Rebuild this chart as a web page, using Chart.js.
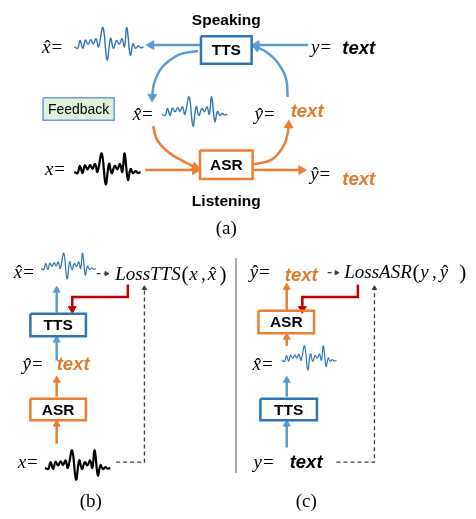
<!DOCTYPE html>
<html><head><meta charset="utf-8">
<script src="https://cdn.jsdelivr.net/npm/chart.js@4/dist/chart.umd.min.js"></script>
<style>html,body{margin:0;padding:0;background:#fff}canvas{display:block}</style>
</head><body>
<canvas id="c" width="476" height="519"></canvas>
<script>
// ---- data: speech waveform (normalised time, normalised amplitude)
const WAVE_T = [0, .05, .085, .125, .16, .2, .24, .275, .315, .35, .415, .475, .525, .565, .61, .65, .69, .725, .76, .81, .85, .885, .925, .96, 1];
const WAVE_V = [-0.05, -0.12, 0.3, -0.12, 0.32, 0.1, 0.35, 0.12, 0.4, -0.05, 1.0, -0.75, 0.42, -0.12, 0.3, 0.1, 0.4, -0.05, 1.0, -0.5, 0.12, -0.12, 0.0, -0.1, -0.05];
// waveform placements: [x0, x1, centreY, amplitude, colour, width]
const WAVES = [
  [70, 141, 41, 19, '#2e75b6', 1.4],
  [160, 227, 110, 17, '#2e75b6', 1.4],
  [70, 138, 169, 18, '#000000', 2.2],
  [36, 92, 268, 15, '#2e75b6', 1.2],
  [40, 107, 472, 17, '#000000', 2.2],
  [283, 339, 362, 14, '#2e75b6', 1.2]
];
const BOX_LABELS = ['TTS', 'ASR', 'TTS', 'ASR', 'ASR', 'TTS'];
const TITLES = ['Speaking', 'Listening', '(a)', '(b)', '(c)'];

const BLUE = '#5b9bd5', BLUE_D = '#2e75b6', ORANGE = '#ed7d31', RED = '#c00000', DASH = '#3a3a3a';

const datasets = [];
function line(pts, color, width, extra) {
  return Object.assign({
    data: pts.map(p => ({x: p[0], y: p[1]})), showLine: true, borderColor: color,
    borderWidth: width, pointRadius: 0, tension: 0, fill: false, clip: false
  }, extra || {});
}
function arrow(pts, color, width, rot, r, extra) {
  const rad = pts.map((p, i) => i === pts.length - 1 ? r : 0);
  return line(pts, color, width, Object.assign({
    pointRadius: rad, pointStyle: 'triangle', rotation: rot,
    pointBackgroundColor: color, pointBorderColor: color, pointBorderWidth: 1
  }, extra || {}));
}
function rect(x0, y0, x1, y1, color, width, fillColor) {
  const d = line([[x0, y0], [x1, y0], [x1, y1], [x0, y1], [x0, y0]], color, width,
    fillColor ? {fill: 'shape', backgroundColor: fillColor} : {});
  d.borderJoinStyle = 'miter';
  return d;
}
// waveforms
WAVES.forEach(w => {
  const [x0, x1, cy, amp, col, wd] = w;
  datasets.push(line(WAVE_V.map((v, i) => [x0 + (x1 - x0) * WAVE_T[i], cy - v * amp]), col, wd, {tension: 0.4}));
});
// boxes
const BOXES = [
  [200, 31, 252, 59, BLUE_D], [199, 148, 253, 177, ORANGE],
  [25, 315, 82, 338, BLUE_D], [25, 402, 82, 424, ORANGE],
  [259, 312, 316, 335, ORANGE], [261, 402, 319, 424, BLUE_D]
];
BOXES.forEach(b => datasets.push(rect(b[0], b[1], b[2], b[3], b[4], 2.5)));
datasets.push(rect(38, 94, 111, 117, '#6f9bd1', 1.5, '#e2efda'));
// (a) arrows
datasets.push(arrow([[199, 40], [149, 40]], BLUE, 2.5, 270, 5));
datasets.push(arrow([[310, 40], [257, 40]], BLUE, 2.5, 270, 5));
datasets.push(arrow([[143, 168], [194, 168]], ORANGE, 2.5, 90, 5));
datasets.push(arrow([[253, 168], [303, 168]], ORANGE, 2.5, 90, 5));
datasets.push(arrow([[197, 46], [177, 50], [160, 63], [152, 79], [150, 93]], BLUE, 2.5, 182, 5, {tension: 0.4}));
datasets.push(arrow([[289, 93], [287, 73], [278, 57], [267, 47], [257, 42]], BLUE, 2.5, 292, 5, {tension: 0.4}));
datasets.push(arrow([[151, 123], [155, 137], [167, 150], [182, 159], [194, 165]], ORANGE, 2.5, 112, 5, {tension: 0.4}));
datasets.push(arrow([[254, 162], [273, 157], [285, 143], [289, 130], [290, 122]], ORANGE, 2.5, 2, 5, {tension: 0.4}));
// (b) arrows
datasets.push(arrow([[52, 314], [52, 291]], BLUE, 2.5, 0, 4));
datasets.push(arrow([[52, 363], [52, 342]], BLUE, 2.5, 0, 4));
datasets.push(arrow([[52, 400], [52, 383]], ORANGE, 2.5, 0, 4));
datasets.push(arrow([[52, 448], [52, 428]], ORANGE, 2.5, 0, 4));
datasets.push(arrow([[93, 274], [103, 274]], DASH, 1.3, 90, 2.5, {borderDash: [4, 3]}));
datasets.push(arrow([[125, 285], [125, 298], [68, 298], [68, 310]], RED, 2.5, 180, 4.5));
datasets.push(arrow([[113, 467], [142, 467], [142, 289]], DASH, 1.3, 0, 2.5, {borderDash: [4, 3]}));
// (c) arrows
datasets.push(arrow([[288, 311], [288, 288]], ORANGE, 2.5, 0, 4));
datasets.push(arrow([[288, 348], [288, 339]], ORANGE, 2.5, 0, 4));
datasets.push(arrow([[288, 400], [288, 383]], BLUE, 2.5, 0, 4));
datasets.push(arrow([[288, 452], [288, 428]], BLUE, 2.5, 0, 4));
datasets.push(arrow([[330, 273], [339, 273]], DASH, 1.3, 90, 2.5, {borderDash: [4, 3]}));
datasets.push(arrow([[361, 285], [361, 298], [304, 298], [304, 310]], RED, 2.5, 180, 4.5));
datasets.push(arrow([[339, 467], [378, 467], [378, 289]], DASH, 1.3, 0, 2.5, {borderDash: [4, 3]}));
// divider
datasets.push(line([[236, 258], [236, 478]], '#9a9a9a', 1));

const SANS = "'Liberation Sans', Arial, sans-serif";
const SERIF = "'Liberation Serif', 'Times New Roman', serif";
const ORANGE_T = '#e07b2c';

const textPlugin = {
  id: 'texts',
  afterDatasetsDraw(chart) {
    const ctx = chart.ctx, sx = chart.scales.x, sy = chart.scales.y;
    const X = v => sx.getPixelForValue(v), Y = v => sy.getPixelForValue(v);
    ctx.save();
    ctx.textBaseline = 'alphabetic';
    function txt(t, x, y, font, color, align) {
      ctx.font = font; ctx.fillStyle = color || '#000'; ctx.textAlign = align || 'left';
      ctx.fillText(t, X(x), Y(y));
    }
    function mvar(letter, hat, x, y, size) {
      ctx.font = 'italic ' + size + 'px ' + SERIF; ctx.fillStyle = '#000'; ctx.textAlign = 'left';
      const w = ctx.measureText(letter).width;
      ctx.fillText(letter, X(x), Y(y));
      if (hat) {
        ctx.font = size + 'px ' + SERIF; ctx.textAlign = 'center';
        ctx.fillText('\u02C6', X(x) + w / 2 + size * 0.06, Y(y) + size * 0.02);
        ctx.textAlign = 'left';
      }
      return w;
    }
    function eq(letter, hat, x, y, size) {
      const w = mvar(letter, hat, x, y, size);
      ctx.font = size + 'px ' + SERIF; ctx.textAlign = 'left';
      ctx.fillText('=', X(x) + w + size * 0.05, Y(y));
    }
    // p: [nameX, openX, aX, commaX, bX, closeX]
    function loss(name, a, b, p, y, size) {
      ctx.fillStyle = '#000'; ctx.textAlign = 'left';
      ctx.font = 'italic ' + size + 'px ' + SERIF;
      ctx.fillText(name, X(p[0]), Y(y));
      ctx.font = (size + 2) + 'px ' + SERIF;
      ctx.fillText('(', X(p[1]), Y(y) + 1);
      mvar(a, false, p[2], y, size);
      ctx.font = size + 'px ' + SERIF;
      ctx.fillText(',', X(p[3]), Y(y));
      mvar(b, true, p[4], y, size);
      ctx.font = (size + 2) + 'px ' + SERIF;
      ctx.fillText(')', X(p[5]), Y(y) + 1);
    }
    const BOLD = 'bold 15.5px ' + SANS;
    const TXT = 'italic bold 18.5px ' + SANS;
    // titles
    txt(TITLES[0], 226, 19, BOLD, '#000', 'center');
    txt(TITLES[1], 226, 205, BOLD, '#000', 'center');
    txt(TITLES[2], 226, 233, '19px ' + SERIF, '#000', 'center');
    txt(TITLES[3], 87, 513, '19px ' + SERIF, '#000', 'center');
    txt(TITLES[4], 308, 513, '19px ' + SERIF, '#000', 'center');
    // box labels
    BOXES.forEach((b, i) => txt(BOX_LABELS[i], (b[0] + b[2]) / 2, (b[1] + b[3]) / 2 + 5.5, BOLD, '#000', 'center'));
    txt('Feedback', 74.5, 110.5, '14px ' + SANS, '#000', 'center');
    // (a) labels
    eq('x', true, 37, 48, 19);
    eq('y', false, 313, 48, 19);
    txt('text', 345, 49, TXT, '#000');
    eq('x', true, 130, 117, 19);
    eq('y', true, 255, 117, 19);
    txt('text', 292, 114, TXT, ORANGE_T);
    eq('x', false, 40, 173, 19);
    eq('y', true, 312, 178, 19);
    txt('text', 345, 183, TXT, ORANGE_T);
    // (b) labels
    eq('x', true, 8, 278, 19);
    loss('LossTTS', 'x', 'x', [112, 180, 188, 200, 207, 219], 280, 19);
    eq('y', true, 17, 373, 19);
    txt('text', 52, 373, TXT, ORANGE_T);
    eq('x', false, 12, 473, 19);
    // (c) labels
    eq('y', true, 250, 278, 19);
    txt('text', 286, 282, TXT, ORANGE_T);
    loss('LossASR', 'y', 'y', [347, 417, 425, 437, 445, 465], 278, 19);
    eq('x', true, 253, 373, 19);
    eq('y', false, 254, 473, 19);
    txt('text', 291, 473, TXT, '#000');
    ctx.restore();
  }
};

new Chart(document.getElementById('c'), {
  type: 'scatter',
  data: {datasets},
  options: {
    responsive: false, animation: false, events: [],
    layout: {padding: 0},
    plugins: {legend: {display: false}, tooltip: {enabled: false}},
    scales: {
      x: {type: 'linear', min: 0, max: 476, display: false},
      y: {type: 'linear', min: 0, max: 519, reverse: true, display: false}
    }
  },
  plugins: [textPlugin]
});
</script>
</body></html>
